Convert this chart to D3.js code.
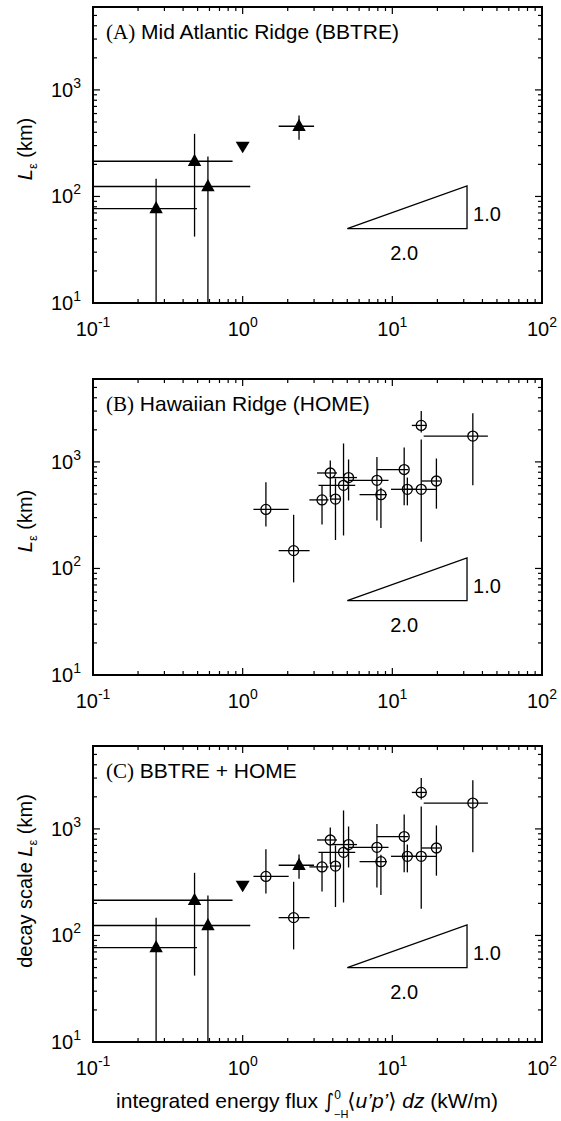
<!DOCTYPE html>
<html>
<head>
<meta charset="utf-8">
<script src="https://cdn.jsdelivr.net/npm/d3@7"></script>
<style>
  body { margin: 0; background: #fff; }
  svg { display: block; }
  text { font-family: "Liberation Sans", Arial, sans-serif; fill: #000; }
</style>
</head>
<body>
<script>
// ---- BBTRE (Mid Atlantic Ridge): integrated flux (kW/m) and decay scale (km) ----
const bbtreFlux   = [0.264, 0.477, 0.586, 2.38];
const bbtreFluxLo = [0.05, 0.05, 0.05, 1.74];
const bbtreFluxHi = [0.495, 0.856, 1.124, 3.0];
const bbtreL      = [77, 214, 124, 456];
const bbtreLLo    = [5, 42, 5, 340];
const bbtreLHi    = [147, 387, 237, 574];

// BBTRE bound estimate (downward triangle)
const bboundFlux = [1.0];
const bboundL    = [290];

// ---- HOME (Hawaiian Ridge) ----
const homeFlux   = [1.43, 2.19, 3.39, 4.17, 3.85, 4.72, 5.10, 7.89, 8.39, 12.0, 12.6, 15.6, 19.7, 15.6, 34.5];
const homeFluxLo = [1.18, 1.74, 2.79, 3.85, 3.14, 3.21, 3.95, 5.10, 6.04, 7.89, 9.8, 12.0, 15.7, 13.5, 16.2];
const homeFluxHi = [2.03, 2.80, 3.75, 4.50, 4.27, 5.65, 5.80, 9.43, 9.20, 12.8, 14.5, 19.9, 21.0, 17.0, 43.5];
const homeL      = [358, 147, 440, 448, 787, 603, 713, 672, 493, 848, 553, 553, 662, 2200, 1746];
const homeLLo    = [248, 74, 259, 185, 468, 204, 435, 282, 240, 391, 391, 178, 364, 1890, 603];
const homeLHi    = [645, 319, 600, 700, 1031, 1490, 1054, 1114, 573, 1367, 713, 1620, 1077, 3000, 2857];

// ---- slope reference triangle (run 2 : rise 1 in log-log) ----
const slopeFlux = [5, 31.55];
const slopeL    = [50, 125.6];
const slopeRunLabel  = "2.0";
const slopeRiseLabel = "1.0";

// ---- labels ----
const panelTags   = ["(A)", "(B)", "(C)"];
const panelNames  = [" Mid Atlantic Ridge (BBTRE)", " Hawaiian Ridge (HOME)", " BBTRE + HOME"];
const panelShow   = [["bbtre"], ["home"], ["bbtre", "home"]];
const xTickExp    = [-1, 0, 1, 2];
const yTickExp    = [1, 2, 3];

const W = 561, H = 1121;
const left = 93, right = 542, panelH = 296;
const panelTops = [7, 379, 746];

const svg = d3.select("body").append("svg").attr("width", W).attr("height", H);

const x = d3.scaleLog().domain([0.1, 100]).range([left, right]);

const upTri   = "M0,-7.5L6.7,4.8L-6.7,4.8Z";
const downTri = "M-7,-5.5L7,-5.5L0,6Z";

function bars(g, y, fx, flo, fhi, L, Llo, Lhi) {
  const idx = d3.range(fx.length);
  g.selectAll(null).data(idx).join("line")
    .attr("x1", i => x(flo[i])).attr("x2", i => x(fhi[i]))
    .attr("y1", i => y(L[i])).attr("y2", i => y(L[i]))
    .attr("stroke", "#000").attr("stroke-width", 1.3);
  g.selectAll(null).data(idx).join("line")
    .attr("x1", i => x(fx[i])).attr("x2", i => x(fx[i]))
    .attr("y1", i => y(Llo[i])).attr("y2", i => y(Lhi[i]))
    .attr("stroke", "#000").attr("stroke-width", 1.3);
}

panelTops.forEach((top, p) => {
  const bottom = top + panelH;
  const y = d3.scaleLog().domain([10, 6000]).range([bottom, top]);
  const g = svg.append("g");

  const clipId = "clip" + p;
  svg.append("clipPath").attr("id", clipId)
    .append("rect").attr("x", left).attr("y", top).attr("width", right - left).attr("height", panelH);

  const data = g.append("g").attr("clip-path", `url(#${clipId})`);

  if (panelShow[p].includes("bbtre")) {
    bars(data, y, bbtreFlux, bbtreFluxLo, bbtreFluxHi, bbtreL, bbtreLLo, bbtreLHi);
    data.selectAll(null).data(d3.range(bbtreFlux.length)).join("path")
      .attr("d", upTri)
      .attr("transform", i => `translate(${x(bbtreFlux[i])},${y(bbtreL[i])})`)
      .attr("fill", "#000");
    data.selectAll(null).data(d3.range(bboundFlux.length)).join("path")
      .attr("d", downTri)
      .attr("transform", i => `translate(${x(bboundFlux[i])},${y(bboundL[i])})`)
      .attr("fill", "#000");
  }
  if (panelShow[p].includes("home")) {
    bars(data, y, homeFlux, homeFluxLo, homeFluxHi, homeL, homeLLo, homeLHi);
    data.selectAll(null).data(d3.range(homeFlux.length)).join("circle")
      .attr("cx", i => x(homeFlux[i])).attr("cy", i => y(homeL[i]))
      .attr("r", 5).attr("fill", "none").attr("stroke", "#000").attr("stroke-width", 1.3);
  }

  // slope triangle
  const tri = [[slopeFlux[0], slopeL[0]], [slopeFlux[1], slopeL[0]], [slopeFlux[1], slopeL[1]]];
  g.append("path")
    .attr("d", d3.line().x(d => x(d[0])).y(d => y(d[1]))(tri) + "Z")
    .attr("fill", "none").attr("stroke", "#000").attr("stroke-width", 1.3);
  g.append("text")
    .attr("x", x(slopeFlux[1]) + 6)
    .attr("y", (y(slopeL[0]) + y(slopeL[1])) / 2 + 14)
    .attr("font-size", 20).text(slopeRiseLabel);
  g.append("text")
    .attr("x", (x(slopeFlux[0]) + x(slopeFlux[1])) / 2 - 3)
    .attr("y", y(slopeL[0]) + 31)
    .attr("text-anchor", "middle")
    .attr("font-size", 20).text(slopeRunLabel);

  // ticks (inside, all four sides)
  const tk = g.append("g").attr("stroke", "#000").attr("stroke-width", 1.2);
  const xMinor = [], yMinor = [];
  for (let e = -1; e < 2; e++) for (let k = 2; k <= 9; k++) xMinor.push(k * Math.pow(10, e));
  for (let e = 1; e < 4; e++) for (let k = 2; k <= 9; k++) if (k * Math.pow(10, e) < 6000) yMinor.push(k * Math.pow(10, e));
  const xMaj = xTickExp.map(e => Math.pow(10, e));
  const yMaj = yTickExp.map(e => Math.pow(10, e));
  [[xMaj, 7], [xMinor, 4]].forEach(([vals, len]) => {
    tk.selectAll(null).data(vals).join("line")
      .attr("x1", d => x(d)).attr("x2", d => x(d)).attr("y1", bottom).attr("y2", bottom - len);
    tk.selectAll(null).data(vals).join("line")
      .attr("x1", d => x(d)).attr("x2", d => x(d)).attr("y1", top).attr("y2", top + len);
  });
  [[yMaj, 7], [yMinor, 4]].forEach(([vals, len]) => {
    tk.selectAll(null).data(vals).join("line")
      .attr("y1", d => y(d)).attr("y2", d => y(d)).attr("x1", left).attr("x2", left + len);
    tk.selectAll(null).data(vals).join("line")
      .attr("y1", d => y(d)).attr("y2", d => y(d)).attr("x1", right).attr("x2", right - len);
  });

  // frame
  g.append("rect").attr("x", left).attr("y", top).attr("width", right - left).attr("height", panelH)
    .attr("fill", "none").attr("stroke", "#000").attr("stroke-width", 2);

  // x tick labels
  xTickExp.forEach(e => {
    const t = g.append("text").attr("x", x(Math.pow(10, e))).attr("y", bottom + 33)
      .attr("text-anchor", "middle").attr("font-size", 20);
    t.append("tspan").text("10");
    t.append("tspan").attr("dy", -9).attr("font-size", 14).text(e < 0 ? "-" + (-e) : String(e));
  });
  // y tick labels
  yTickExp.forEach(e => {
    const t = g.append("text").attr("x", left - 12).attr("y", y(Math.pow(10, e)) + 7)
      .attr("text-anchor", "end").attr("font-size", 20);
    t.append("tspan").text("10");
    t.append("tspan").attr("dy", -9).attr("font-size", 14).text(String(e));
  });

  // panel title
  const tt = g.append("text").attr("x", left + 13).attr("y", top + 32).attr("font-size", 21);
  tt.append("tspan").attr("font-family", "'Liberation Serif', 'Times New Roman', serif").text(panelTags[p]);
  tt.append("tspan").text(panelNames[p]);

  // y axis label
  const cy = p === 2 ? top + panelH / 2 - 13 : top + panelH / 2 - 6;
  const yl = g.append("text").attr("transform", `translate(32,${cy}) rotate(-90)`)
    .attr("text-anchor", "middle").attr("font-size", 20);
  if (p === 2) yl.append("tspan").text("decay scale ");
  yl.append("tspan").attr("font-style", "italic").text("L");
  yl.append("tspan").attr("font-size", 13).attr("dy", 5).text("ε");
  yl.append("tspan").attr("dy", -5).text(" (km)");
});

// x axis label
const xl = svg.append("text").attr("x", 307).attr("y", 1108)
  .attr("text-anchor", "middle").attr("font-size", 21);
xl.append("tspan").text("integrated energy flux ");
xl.append("tspan").attr("font-family", "'DejaVu Sans', sans-serif").attr("font-size", 20).text("∫");
xl.append("tspan").attr("font-size", 12).attr("dy", -9).text("0");
xl.append("tspan").attr("font-size", 11).attr("dx", -7).attr("dy", 19).text("−H");
xl.append("tspan").attr("font-family", "'DejaVu Sans', sans-serif").attr("dx", -1).attr("dy", -10).text("⟨");
xl.append("tspan").attr("font-style", "italic").text("u’p’");
xl.append("tspan").attr("font-family", "'DejaVu Sans', sans-serif").text("⟩");
xl.append("tspan").text(" ");
xl.append("tspan").attr("font-style", "italic").text("dz");
xl.append("tspan").text(" (kW/m)");
</script>
</body>
</html>
